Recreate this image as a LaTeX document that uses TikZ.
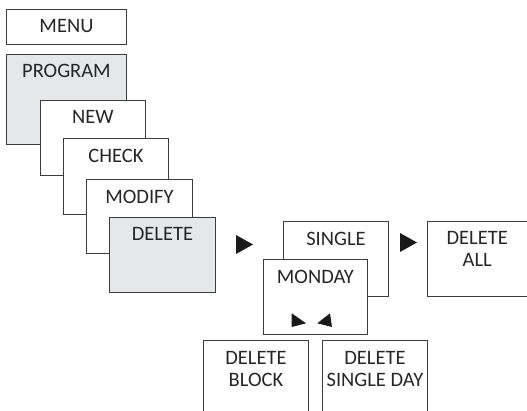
\documentclass[tikz,border=0pt]{standalone}
\usepackage{fontspec}
\setmainfont{Carlito}
\definecolor{randgrau}{HTML}{3C3C3C}
\definecolor{feldgrau}{HTML}{E6E7E8}
\definecolor{pfeilschwarz}{HTML}{1A1A1A}
\tikzset{
    kasten/.style={draw=randgrau, fill=white, line width=0.9pt, anchor=north west,
        inner sep=0pt, minimum width=105pt, minimum height=75pt},
    kastentext/.style={anchor=north, inner sep=0pt, yshift=-10.5pt, align=center,
        text=black!85, font=\fontsize{20.5}{21.5}\selectfont}
}
\begin{document}
\begin{tikzpicture}
    [
    x=1pt, y=-1pt
    %Koordinaten wie Pixel, y nach unten
    ]
    
    \useasboundingbox (0,0) rectangle (527,411);
    \clip (0,0) rectangle (527,411);
    
    %Menue
    \node[kasten, minimum width=120pt, minimum height=35pt,
        label={[kastentext]north:MENU}] (menu) at (6,9) {};
    
    %Programm-Stapel
    \node[kasten, fill=feldgrau, minimum width=120pt, minimum height=90pt,
        label={[kastentext]north:PROGRAM}] (program) at (6,54) {};
    \node[kasten, label={[kastentext]north:NEW}] (new) at (40,100) {};
    \node[kasten, minimum height=76pt, label={[kastentext]north:CHECK}] (check) at (63,138) {};
    \node[kasten, minimum width=106pt, minimum height=74pt,
        label={[kastentext]north:MODIFY}] (modify) at (86,179) {};
    \node[kasten, fill=feldgrau, minimum width=106pt,
        label={[kastentext]north:DELETE}] (delete) at (109,217) {};
    
    %Einzeln / Wochentag
    \node[kasten, label={[kastentext]north:SINGLE}] (single) at (283,221) {};
    \node[kasten, minimum width=104pt, label={[kastentext]north:MONDAY}] (monday) at (263,259) {};
    \node[kasten, minimum width=99.5pt,
        label={[kastentext]north:DELETE\\ALL}] (deleteall) at (427,221) {};
    
    %untere Kaesten
    \node[kasten, minimum height=90pt,
        label={[kastentext, yshift=-1pt]north:DELETE\\BLOCK}] (deleteblock) at (203,340) {};
    \node[kasten, minimum height=90pt,
        label={[kastentext, yshift=-1pt]north:DELETE\\SINGLE DAY}] (deleteday) at (322,340) {};
    
    %Pfeile
    \fill[pfeilschwarz] (236,235) -- (236,254) -- (253,244.5) -- cycle;
    \fill[pfeilschwarz] (400,233) -- (400,252) -- (417,242.5) -- cycle;
    
    %kleine Pfeile im MONDAY-Kasten
    \fill[pfeilschwarz] (291.7,313.3) -- (291.7,327) -- (306,323.3) -- cycle;
    \fill[pfeilschwarz] (317.3,323.3) -- (330,313.3) -- (332,327) -- cycle;
\end{tikzpicture}
\end{document}
